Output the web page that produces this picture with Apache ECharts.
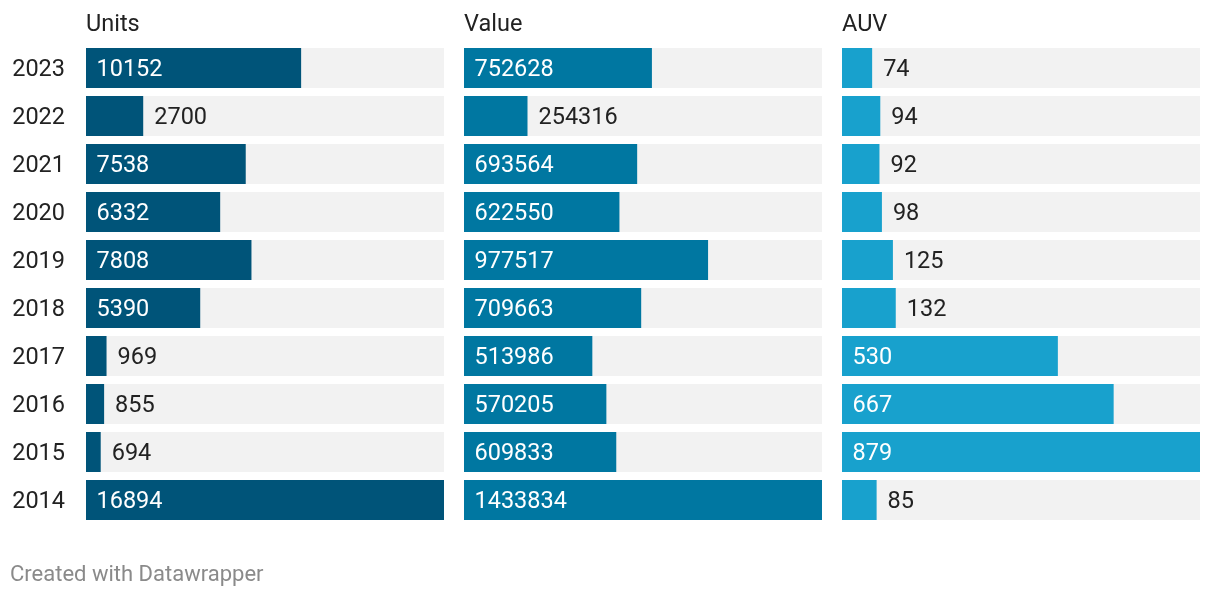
<!DOCTYPE html>
<html>
<head>
<meta charset="utf-8">
<script src="https://cdn.jsdelivr.net/npm/echarts@6/dist/echarts.min.js"></script>
<style>
html,body{margin:0;padding:0;background:#fff;}
#c{width:1220px;height:596px;}
</style>
</head>
<body>
<div id="c"></div>
<script>
const years = ['2023','2022','2021','2020','2019','2018','2017','2016','2015','2014'];
const units = [10152, 2700, 7538, 6332, 7808, 5390, 969, 855, 694, 16894];
const value = [752628, 254316, 693564, 622550, 977517, 709663, 513986, 570205, 609833, 1433834];
const auv = [74, 94, 92, 98, 125, 132, 530, 667, 879, 85];
const panelTitles = ['Units', 'Value', 'AUV'];

const colors = ['#005479', '#0077a1', '#18a1cd'];
const lefts = [86, 464, 842];
const panelWidth = 358;
const FONT = 'Roboto';
const FS = 23.5;

const chart = echarts.init(document.getElementById('c'));
const sets = [units, value, auv];

const grids = [], xAxes = [], yAxes = [], series = [], titles = [];
sets.forEach((arr, i) => {
  const mx = Math.max(...arr);
  grids.push({left: lefts[i], width: panelWidth, top: 44, height: 480});
  xAxes.push({type: 'value', gridIndex: i, min: 0, max: mx, show: false});
  yAxes.push({
    type: 'category', gridIndex: i, data: years, inverse: true,
    axisLine: {show: false}, axisTick: {show: false},
    axisLabel: {
      show: i === 0, margin: 21,
      formatter: v => '{y|' + v + '}',
      rich: {y: {fontFamily: FONT, fontSize: FS, color: '#222', padding: [5, 0, 0, 0]}}
    }
  });
  titles.push({
    text: panelTitles[i], left: lefts[i], top: 13, padding: 0,
    textStyle: {fontFamily: FONT, fontSize: FS, fontWeight: 'normal', color: '#222'}
  });
  series.push({
    type: 'bar', xAxisIndex: i, yAxisIndex: i, barWidth: 40,
    showBackground: true, backgroundStyle: {color: '#f2f2f2'},
    itemStyle: {color: colors[i]},
    silent: true,
    data: arr.map(v => {
      const inside = v / mx > 0.25;
      return {
        value: v,
        label: inside
          ? {show: true, position: 'insideLeft', distance: 10.5, offset: [0, 2.5], color: '#fff', fontFamily: FONT, fontSize: FS}
          : {show: true, position: 'right', distance: 11, offset: [0, 2.5], color: '#222', fontFamily: FONT, fontSize: FS}
      };
    })
  });
});

titles.push({
  text: 'Created with Datawrapper', left: 10, top: 564, padding: 0,
  textStyle: {fontFamily: FONT, fontSize: 22, fontWeight: 'normal', color: '#8a8a8a'}
});

chart.setOption({
  animation: false,
  title: titles,
  grid: grids,
  xAxis: xAxes,
  yAxis: yAxes,
  series: series
});
</script>
</body>
</html>
